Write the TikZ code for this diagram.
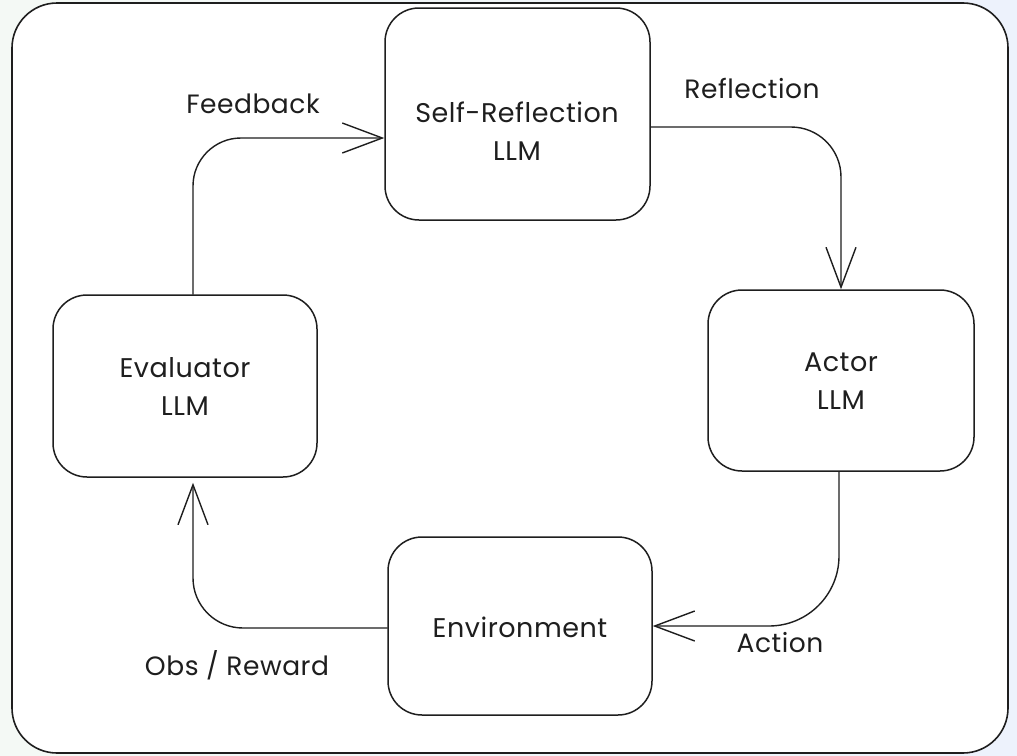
\documentclass[tikz,border=0pt]{standalone}
\usepackage{fontspec}
\setmainfont{Poppins}[LetterSpace=2]
\usetikzlibrary{arrows.meta}
\definecolor{ink}{HTML}{1E1E1E}
\definecolor{pageleft}{HTML}{F4F9F5}
\definecolor{pageright}{HTML}{EDF2FC}
\tikzset{
  every node/.style={font=\fontsize{27}{38}\selectfont, text=ink},
  stage/.style={draw=ink, line width=1.5pt, rounded corners=34pt, fill=white,
                minimum width=#1, inner sep=0pt},
  caption/.style={align=center},
  flow/.style={draw=ink, line width=1.4pt, line cap=round, line join=round,
               -{Straight Barb[length=40pt, width=30pt, line width=1.4pt]}},
  edgelabel/.style={font=\fontsize{26.5}{30}\selectfont}
}
\begin{document}
\begin{tikzpicture}[x=1pt, y=-1pt]
  % page background and outer panel
  \shade[left color=pageleft, right color=pageright] (0,0) rectangle (1017,755);
  \draw[ink, line width=1.6pt, fill=white, rounded corners=45pt] (12,3) rectangle (1008,753);

  % stages of the loop
  \node[stage=265pt, minimum height=212pt] (sr)    at (517.5,114) {};
  \node[stage=266pt, minimum height=181pt] (actor) at (841,380.5) {};
  \node[stage=264pt, minimum height=182pt] (eval)  at (185,386)   {};
  \node[stage=264pt, minimum height=178pt] (env)   at (520,626)   {};

  % stage captions
  \node[caption] (srtext)    at (517,131) {Self-Reflection\\LLM};
  \node[caption] (actortext) at (841,381) {Actor\\LLM};
  \node[caption] (evaltext)  at (185,387) {Evaluator\\LLM};
  \node[caption] (envtext)   at (520,627) {Environment};

  % connectors
  \draw[flow, rounded corners=50pt] ([yshift=-13pt]sr.east) -| (actor.north);
  \draw[flow, rounded corners=70pt] ([xshift=-2pt]actor.south) |- (env.east);
  \draw[flow, rounded corners=50pt, shorten >=5pt] ([yshift=-2pt]env.west) -| ([xshift=8pt]eval.south);
  \draw[flow, rounded corners=48pt] ([xshift=8pt]eval.north) |- ([yshift=-24pt]sr.west);

  % connector labels
  \node[edgelabel] (lfeed)   at (253,104) {Feedback};
  \node[edgelabel] (lrefl)   at (752,88)  {Reflection};
  \node[edgelabel] (lact)    at (780,643) {Action};
  \node[edgelabel] (lobs)    at (237,665) {Obs / Reward};
\end{tikzpicture}
\end{document}
